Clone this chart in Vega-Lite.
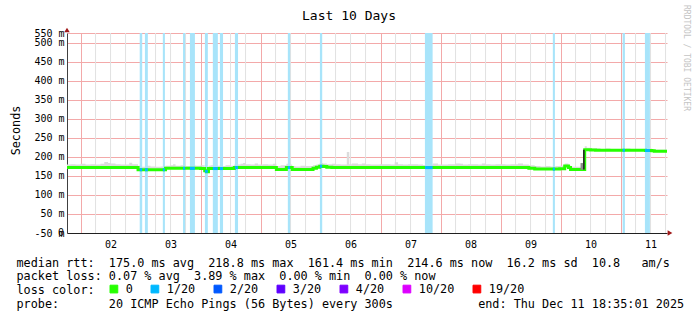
{
  "$schema": "https://vega.github.io/schema/vega-lite/v6.json",
  "width": 600,
  "height": 200,
  "autosize": "none",
  "padding": {"left": 67, "top": 33, "right": 30, "bottom": 88},
  "background": "white",
  "title": {"text": "Last 10 Days", "anchor": "middle", "dx": -18, "dy": 22, "fontSize": 13, "fontWeight": "normal", "font": "DejaVu Sans Mono", "color": "#000000"},
  "datasets": {
    "rtt": [
      {"t": "2025-12-01T18:00:00Z", "m": 172, "h": 180},
      {"t": "2025-12-01T20:00:00Z", "m": 172, "h": 181},
      {"t": "2025-12-01T22:00:00Z", "m": 172, "h": 180},
      {"t": "2025-12-02T00:00:00Z", "m": 172, "h": 182},
      {"t": "2025-12-02T02:00:00Z", "m": 172, "h": 180},
      {"t": "2025-12-02T04:00:00Z", "m": 172, "h": 181},
      {"t": "2025-12-02T06:00:00Z", "m": 172, "h": 180},
      {"t": "2025-12-02T08:00:00Z", "m": 172, "h": 182},
      {"t": "2025-12-02T09:30:00Z", "m": 172, "h": 187},
      {"t": "2025-12-02T11:00:00Z", "m": 172, "h": 184},
      {"t": "2025-12-02T12:00:00Z", "m": 172, "h": 183},
      {"t": "2025-12-02T14:00:00Z", "m": 172, "h": 181},
      {"t": "2025-12-02T16:00:00Z", "m": 172, "h": 180},
      {"t": "2025-12-02T18:00:00Z", "m": 172, "h": 180},
      {"t": "2025-12-02T19:30:00Z", "m": 172, "h": 185},
      {"t": "2025-12-02T20:40:00Z", "m": 172, "h": 181},
      {"t": "2025-12-02T22:00:00Z", "m": 172, "h": 181},
      {"t": "2025-12-02T23:00:00Z", "m": 166.5, "h": 177},
      {"t": "2025-12-03T00:00:00Z", "m": 166.5, "h": 174},
      {"t": "2025-12-03T02:00:00Z", "m": 166.5, "h": 177},
      {"t": "2025-12-03T04:00:00Z", "m": 166.5, "h": 175},
      {"t": "2025-12-03T06:00:00Z", "m": 166.5, "h": 174},
      {"t": "2025-12-03T08:00:00Z", "m": 166.5, "h": 175},
      {"t": "2025-12-03T10:00:00Z", "m": 170, "h": 177},
      {"t": "2025-12-03T12:00:00Z", "m": 170, "h": 178},
      {"t": "2025-12-03T13:00:00Z", "m": 170, "h": 181},
      {"t": "2025-12-03T14:00:00Z", "m": 170, "h": 177},
      {"t": "2025-12-03T16:00:00Z", "m": 170, "h": 178},
      {"t": "2025-12-03T18:00:00Z", "m": 170, "h": 176},
      {"t": "2025-12-03T20:00:00Z", "m": 170, "h": 178},
      {"t": "2025-12-03T22:00:00Z", "m": 170, "h": 177},
      {"t": "2025-12-04T00:00:00Z", "m": 169.5, "h": 178},
      {"t": "2025-12-04T01:40:00Z", "m": 164, "h": 172},
      {"t": "2025-12-04T02:20:00Z", "m": 161.4, "h": 170},
      {"t": "2025-12-04T03:10:00Z", "m": 169.5, "h": 177},
      {"t": "2025-12-04T04:00:00Z", "m": 169.5, "h": 178},
      {"t": "2025-12-04T06:00:00Z", "m": 169.5, "h": 177},
      {"t": "2025-12-04T08:00:00Z", "m": 169.5, "h": 176},
      {"t": "2025-12-04T10:00:00Z", "m": 169.5, "h": 178},
      {"t": "2025-12-04T12:00:00Z", "m": 169.5, "h": 177},
      {"t": "2025-12-04T13:30:00Z", "m": 172, "h": 180},
      {"t": "2025-12-04T16:00:00Z", "m": 172, "h": 182},
      {"t": "2025-12-04T17:00:00Z", "m": 172, "h": 184},
      {"t": "2025-12-04T18:00:00Z", "m": 172, "h": 181},
      {"t": "2025-12-04T20:00:00Z", "m": 172, "h": 180},
      {"t": "2025-12-04T21:40:00Z", "m": 172, "h": 183},
      {"t": "2025-12-04T23:00:00Z", "m": 172, "h": 180},
      {"t": "2025-12-05T01:00:00Z", "m": 172, "h": 181},
      {"t": "2025-12-05T03:00:00Z", "m": 172, "h": 180},
      {"t": "2025-12-05T05:00:00Z", "m": 172, "h": 182},
      {"t": "2025-12-05T06:20:00Z", "m": 167, "h": 176},
      {"t": "2025-12-05T08:00:00Z", "m": 167, "h": 178},
      {"t": "2025-12-05T10:20:00Z", "m": 172, "h": 182},
      {"t": "2025-12-05T12:00:00Z", "m": 172, "h": 180},
      {"t": "2025-12-05T12:40:00Z", "m": 167, "h": 176},
      {"t": "2025-12-05T14:00:00Z", "m": 167, "h": 175},
      {"t": "2025-12-05T16:00:00Z", "m": 167, "h": 177},
      {"t": "2025-12-05T18:00:00Z", "m": 167, "h": 176},
      {"t": "2025-12-05T20:00:00Z", "m": 167, "h": 176},
      {"t": "2025-12-05T21:00:00Z", "m": 170, "h": 178},
      {"t": "2025-12-05T22:20:00Z", "m": 173, "h": 180},
      {"t": "2025-12-05T23:40:00Z", "m": 175.5, "h": 184},
      {"t": "2025-12-06T01:00:00Z", "m": 175, "h": 183},
      {"t": "2025-12-06T02:30:00Z", "m": 173, "h": 181},
      {"t": "2025-12-06T04:30:00Z", "m": 172, "h": 182},
      {"t": "2025-12-06T06:00:00Z", "m": 172, "h": 181},
      {"t": "2025-12-06T08:00:00Z", "m": 172, "h": 180},
      {"t": "2025-12-06T10:30:00Z", "m": 172, "h": 213},
      {"t": "2025-12-06T11:30:00Z", "m": 172, "h": 181},
      {"t": "2025-12-06T12:30:00Z", "m": 172, "h": 183},
      {"t": "2025-12-06T15:00:00Z", "m": 172, "h": 181},
      {"t": "2025-12-06T16:30:00Z", "m": 172, "h": 183},
      {"t": "2025-12-06T18:00:00Z", "m": 172, "h": 181},
      {"t": "2025-12-06T20:00:00Z", "m": 172, "h": 180},
      {"t": "2025-12-06T22:00:00Z", "m": 172, "h": 180},
      {"t": "2025-12-06T23:40:00Z", "m": 172, "h": 181},
      {"t": "2025-12-07T02:00:00Z", "m": 172, "h": 181},
      {"t": "2025-12-07T04:00:00Z", "m": 172, "h": 180},
      {"t": "2025-12-07T05:40:00Z", "m": 172, "h": 186},
      {"t": "2025-12-07T07:00:00Z", "m": 172, "h": 181},
      {"t": "2025-12-07T09:00:00Z", "m": 172, "h": 180},
      {"t": "2025-12-07T11:00:00Z", "m": 172, "h": 181},
      {"t": "2025-12-07T13:00:00Z", "m": 172, "h": 181},
      {"t": "2025-12-07T15:00:00Z", "m": 172, "h": 180},
      {"t": "2025-12-07T17:00:00Z", "m": 172, "h": 179},
      {"t": "2025-12-07T19:00:00Z", "m": 172, "h": 180},
      {"t": "2025-12-07T21:00:00Z", "m": 172, "h": 183},
      {"t": "2025-12-07T23:00:00Z", "m": 172, "h": 180},
      {"t": "2025-12-08T01:00:00Z", "m": 172, "h": 180},
      {"t": "2025-12-08T03:00:00Z", "m": 172, "h": 181},
      {"t": "2025-12-08T06:00:00Z", "m": 172, "h": 183},
      {"t": "2025-12-08T08:00:00Z", "m": 172, "h": 182},
      {"t": "2025-12-08T09:00:00Z", "m": 172, "h": 180},
      {"t": "2025-12-08T11:00:00Z", "m": 172, "h": 181},
      {"t": "2025-12-08T13:00:00Z", "m": 172, "h": 181},
      {"t": "2025-12-08T15:00:00Z", "m": 172, "h": 180},
      {"t": "2025-12-08T16:30:00Z", "m": 172, "h": 183},
      {"t": "2025-12-08T18:00:00Z", "m": 172, "h": 181},
      {"t": "2025-12-08T20:00:00Z", "m": 172, "h": 180},
      {"t": "2025-12-08T22:00:00Z", "m": 172, "h": 181},
      {"t": "2025-12-09T00:00:00Z", "m": 172, "h": 181},
      {"t": "2025-12-09T02:00:00Z", "m": 172, "h": 180},
      {"t": "2025-12-09T04:00:00Z", "m": 172, "h": 181},
      {"t": "2025-12-09T07:00:00Z", "m": 172, "h": 183},
      {"t": "2025-12-09T09:00:00Z", "m": 172, "h": 180},
      {"t": "2025-12-09T11:20:00Z", "m": 170, "h": 178},
      {"t": "2025-12-09T13:40:00Z", "m": 168, "h": 176},
      {"t": "2025-12-09T16:00:00Z", "m": 168, "h": 175},
      {"t": "2025-12-09T18:00:00Z", "m": 168, "h": 176},
      {"t": "2025-12-09T20:00:00Z", "m": 168, "h": 175},
      {"t": "2025-12-09T22:00:00Z", "m": 168, "h": 176},
      {"t": "2025-12-09T23:40:00Z", "m": 169, "h": 177},
      {"t": "2025-12-10T01:40:00Z", "m": 176.5, "h": 183},
      {"t": "2025-12-10T03:10:00Z", "m": 172, "h": 178},
      {"t": "2025-12-10T04:00:00Z", "m": 167, "h": 174},
      {"t": "2025-12-10T06:00:00Z", "m": 167, "h": 174},
      {"t": "2025-12-10T09:40:00Z", "m": 219, "h": 228},
      {"t": "2025-12-10T10:30:00Z", "m": 219, "h": 224},
      {"t": "2025-12-10T12:00:00Z", "m": 218, "h": 223},
      {"t": "2025-12-10T14:00:00Z", "m": 217.5, "h": 223},
      {"t": "2025-12-10T16:00:00Z", "m": 217.5, "h": 221},
      {"t": "2025-12-10T18:00:00Z", "m": 217.5, "h": 222},
      {"t": "2025-12-10T20:00:00Z", "m": 217.5, "h": 221},
      {"t": "2025-12-10T22:00:00Z", "m": 217.5, "h": 221},
      {"t": "2025-12-11T00:00:00Z", "m": 217.5, "h": 221},
      {"t": "2025-12-11T02:00:00Z", "m": 217.5, "h": 222},
      {"t": "2025-12-11T04:00:00Z", "m": 217.5, "h": 221},
      {"t": "2025-12-11T06:00:00Z", "m": 217.5, "h": 221},
      {"t": "2025-12-11T08:00:00Z", "m": 217.5, "h": 221},
      {"t": "2025-12-11T10:00:00Z", "m": 217, "h": 221},
      {"t": "2025-12-11T11:00:00Z", "m": 217, "h": 222},
      {"t": "2025-12-11T12:30:00Z", "m": 216, "h": 221},
      {"t": "2025-12-11T13:30:00Z", "m": 215, "h": 219},
      {"t": "2025-12-11T16:00:00Z", "m": 215, "h": 219},
      {"t": "2025-12-11T18:35:00Z", "m": 214.6, "h": 219}
    ],
    "loss": [
      {"s": "2025-12-02T23:40:00Z", "e": "2025-12-03T00:40:00Z", "m": 166.5, "loss": "1/20"},
      {"s": "2025-12-03T01:45:00Z", "e": "2025-12-03T02:55:00Z", "m": 166.5, "loss": "1/20"},
      {"s": "2025-12-03T08:55:00Z", "e": "2025-12-03T09:45:00Z", "m": 166.5, "loss": "1/20"},
      {"s": "2025-12-03T17:00:00Z", "e": "2025-12-03T17:50:00Z", "m": 170, "loss": "1/20"},
      {"s": "2025-12-03T19:45:00Z", "e": "2025-12-03T21:45:00Z", "m": 170, "loss": "1/20"},
      {"s": "2025-12-04T01:45:00Z", "e": "2025-12-04T02:55:00Z", "m": 162, "loss": "1/20"},
      {"s": "2025-12-04T04:55:00Z", "e": "2025-12-04T06:55:00Z", "m": 169.5, "loss": "1/20"},
      {"s": "2025-12-04T07:45:00Z", "e": "2025-12-04T09:00:00Z", "m": 169.5, "loss": "1/20"},
      {"s": "2025-12-04T13:45:00Z", "e": "2025-12-04T15:00:00Z", "m": 172, "loss": "1/20"},
      {"s": "2025-12-05T10:55:00Z", "e": "2025-12-05T11:50:00Z", "m": 172, "loss": "1/20"},
      {"s": "2025-12-05T23:45:00Z", "e": "2025-12-06T00:40:00Z", "m": 175.5, "loss": "1/20"},
      {"s": "2025-12-07T17:45:00Z", "e": "2025-12-07T20:50:00Z", "m": 172, "loss": "1/20"},
      {"s": "2025-12-09T20:55:00Z", "e": "2025-12-09T21:45:00Z", "m": 168, "loss": "1/20"},
      {"s": "2025-12-11T00:50:00Z", "e": "2025-12-11T01:45:00Z", "m": 217.5, "loss": "1/20"},
      {"s": "2025-12-11T09:45:00Z", "e": "2025-12-11T11:45:00Z", "m": 217, "loss": "1/20"}
    ],
    "dense": [
      {"s": "2025-12-10T08:00:00Z", "e": "2025-12-10T09:00:00Z", "lo": 166, "hi": 184, "density": "mid"},
      {"s": "2025-12-10T09:00:00Z", "e": "2025-12-10T09:40:00Z", "lo": 167, "hi": 219, "density": "high"}
    ],
    "sixhours": [
      {"g": "2025-12-02T06:00:00Z"}, {"g": "2025-12-02T12:00:00Z"}, {"g": "2025-12-02T18:00:00Z"},
      {"g": "2025-12-03T06:00:00Z"}, {"g": "2025-12-03T12:00:00Z"}, {"g": "2025-12-03T18:00:00Z"},
      {"g": "2025-12-04T06:00:00Z"}, {"g": "2025-12-04T12:00:00Z"}, {"g": "2025-12-04T18:00:00Z"},
      {"g": "2025-12-05T06:00:00Z"}, {"g": "2025-12-05T12:00:00Z"}, {"g": "2025-12-05T18:00:00Z"},
      {"g": "2025-12-06T06:00:00Z"}, {"g": "2025-12-06T12:00:00Z"}, {"g": "2025-12-06T18:00:00Z"},
      {"g": "2025-12-07T06:00:00Z"}, {"g": "2025-12-07T12:00:00Z"}, {"g": "2025-12-07T18:00:00Z"},
      {"g": "2025-12-08T06:00:00Z"}, {"g": "2025-12-08T12:00:00Z"}, {"g": "2025-12-08T18:00:00Z"},
      {"g": "2025-12-09T06:00:00Z"}, {"g": "2025-12-09T12:00:00Z"}, {"g": "2025-12-09T18:00:00Z"},
      {"g": "2025-12-10T06:00:00Z"}, {"g": "2025-12-10T12:00:00Z"}, {"g": "2025-12-10T18:00:00Z"},
      {"g": "2025-12-11T06:00:00Z"}, {"g": "2025-12-11T12:00:00Z"}, {"g": "2025-12-11T18:00:00Z"}
    ],
    "marker": [{"k": 1}]
  },
  "layer": [
    {
      "data": {"name": "sixhours"},
      "mark": {"type": "rule", "color": "#e2e2e2", "strokeWidth": 1},
      "encoding": {
        "x": {"field": "g", "type": "temporal",
          "scale": {"type": "utc", "domain": [{"year": 2025, "month": 12, "date": 1, "hours": 18, "minutes": 35, "utc": true}, {"year": 2025, "month": 12, "date": 11, "hours": 18, "minutes": 35, "utc": true}]},
          "axis": {"values": [{"year": 2025, "month": 12, "date": 2, "utc": true}, {"year": 2025, "month": 12, "date": 3, "utc": true}, {"year": 2025, "month": 12, "date": 4, "utc": true}, {"year": 2025, "month": 12, "date": 5, "utc": true}, {"year": 2025, "month": 12, "date": 6, "utc": true}, {"year": 2025, "month": 12, "date": 7, "utc": true}, {"year": 2025, "month": 12, "date": 8, "utc": true}, {"year": 2025, "month": 12, "date": 9, "utc": true}, {"year": 2025, "month": 12, "date": 10, "utc": true}, {"year": 2025, "month": 12, "date": 11, "utc": true}],
            "title": ["median rtt:\u00a0\u00a0175.0 ms avg\u00a0\u00a0218.8 ms max\u00a0\u00a0161.4 ms min\u00a0\u00a0214.6 ms now\u00a0\u00a016.2 ms sd\u00a0\u00a010.8\u00a0\u00a0\u00a0am/s", "packet loss: 0.07 % avg\u00a0\u00a03.89 % max\u00a0\u00a00.00 % min\u00a0\u00a00.00 % now", "loss color:", "probe:\u00a0\u00a0\u00a0\u00a0\u00a0\u00a0\u00a020 ICMP Echo Pings (56 Bytes) every 300s\u00a0\u00a0\u00a0\u00a0\u00a0\u00a0\u00a0\u00a0\u00a0\u00a0\u00a0\u00a0end: Thu Dec 11 18:35:01 2025"]}}
      }
    },
    {
      "data": {"name": "rtt"},
      "mark": {"type": "area", "interpolate": "step-after", "color": "#dcdcdc", "clip": true},
      "encoding": {
        "x": {"field": "t", "type": "temporal",
          "axis": {"values": [{"year": 2025, "month": 12, "date": 2, "utc": true}, {"year": 2025, "month": 12, "date": 3, "utc": true}, {"year": 2025, "month": 12, "date": 4, "utc": true}, {"year": 2025, "month": 12, "date": 5, "utc": true}, {"year": 2025, "month": 12, "date": 6, "utc": true}, {"year": 2025, "month": 12, "date": 7, "utc": true}, {"year": 2025, "month": 12, "date": 8, "utc": true}, {"year": 2025, "month": 12, "date": 9, "utc": true}, {"year": 2025, "month": 12, "date": 10, "utc": true}, {"year": 2025, "month": 12, "date": 11, "utc": true}],
            "title": ["median rtt:\u00a0\u00a0175.0 ms avg\u00a0\u00a0218.8 ms max\u00a0\u00a0161.4 ms min\u00a0\u00a0214.6 ms now\u00a0\u00a016.2 ms sd\u00a0\u00a010.8\u00a0\u00a0\u00a0am/s", "packet loss: 0.07 % avg\u00a0\u00a03.89 % max\u00a0\u00a00.00 % min\u00a0\u00a00.00 % now", "loss color:", "probe:\u00a0\u00a0\u00a0\u00a0\u00a0\u00a0\u00a020 ICMP Echo Pings (56 Bytes) every 300s\u00a0\u00a0\u00a0\u00a0\u00a0\u00a0\u00a0\u00a0\u00a0\u00a0\u00a0\u00a0end: Thu Dec 11 18:35:01 2025"]}},
        "y": {"field": "m", "type": "quantitative",
          "scale": {"domain": [0, 526], "nice": false, "zero": false},
          "axis": {"values": [0, 50, 100, 150, 200, 250, 300, 350, 400, 450, 500, 526], "title": "Seconds"}},
        "y2": {"field": "h"}
      }
    },
    {
      "data": {"name": "loss"},
      "mark": {"type": "rect", "color": "#a8e4fa", "clip": true},
      "encoding": {
        "x": {"field": "s", "type": "temporal",
          "axis": {"values": [{"year": 2025, "month": 12, "date": 2, "utc": true}, {"year": 2025, "month": 12, "date": 3, "utc": true}, {"year": 2025, "month": 12, "date": 4, "utc": true}, {"year": 2025, "month": 12, "date": 5, "utc": true}, {"year": 2025, "month": 12, "date": 6, "utc": true}, {"year": 2025, "month": 12, "date": 7, "utc": true}, {"year": 2025, "month": 12, "date": 8, "utc": true}, {"year": 2025, "month": 12, "date": 9, "utc": true}, {"year": 2025, "month": 12, "date": 10, "utc": true}, {"year": 2025, "month": 12, "date": 11, "utc": true}],
            "title": ["median rtt:\u00a0\u00a0175.0 ms avg\u00a0\u00a0218.8 ms max\u00a0\u00a0161.4 ms min\u00a0\u00a0214.6 ms now\u00a0\u00a016.2 ms sd\u00a0\u00a010.8\u00a0\u00a0\u00a0am/s", "packet loss: 0.07 % avg\u00a0\u00a03.89 % max\u00a0\u00a00.00 % min\u00a0\u00a00.00 % now", "loss color:", "probe:\u00a0\u00a0\u00a0\u00a0\u00a0\u00a0\u00a020 ICMP Echo Pings (56 Bytes) every 300s\u00a0\u00a0\u00a0\u00a0\u00a0\u00a0\u00a0\u00a0\u00a0\u00a0\u00a0\u00a0end: Thu Dec 11 18:35:01 2025"]}},
        "x2": {"field": "e"}
      }
    },
    {
      "data": {"name": "rtt"},
      "mark": {"type": "line", "interpolate": "step-after", "strokeWidth": 3, "clip": true, "color": "#26ff00"},
      "encoding": {
        "x": {"field": "t", "type": "temporal",
          "axis": {"values": [{"year": 2025, "month": 12, "date": 2, "utc": true}, {"year": 2025, "month": 12, "date": 3, "utc": true}, {"year": 2025, "month": 12, "date": 4, "utc": true}, {"year": 2025, "month": 12, "date": 5, "utc": true}, {"year": 2025, "month": 12, "date": 6, "utc": true}, {"year": 2025, "month": 12, "date": 7, "utc": true}, {"year": 2025, "month": 12, "date": 8, "utc": true}, {"year": 2025, "month": 12, "date": 9, "utc": true}, {"year": 2025, "month": 12, "date": 10, "utc": true}, {"year": 2025, "month": 12, "date": 11, "utc": true}],
            "title": ["median rtt:\u00a0\u00a0175.0 ms avg\u00a0\u00a0218.8 ms max\u00a0\u00a0161.4 ms min\u00a0\u00a0214.6 ms now\u00a0\u00a016.2 ms sd\u00a0\u00a010.8\u00a0\u00a0\u00a0am/s", "packet loss: 0.07 % avg\u00a0\u00a03.89 % max\u00a0\u00a00.00 % min\u00a0\u00a00.00 % now", "loss color:", "probe:\u00a0\u00a0\u00a0\u00a0\u00a0\u00a0\u00a020 ICMP Echo Pings (56 Bytes) every 300s\u00a0\u00a0\u00a0\u00a0\u00a0\u00a0\u00a0\u00a0\u00a0\u00a0\u00a0\u00a0end: Thu Dec 11 18:35:01 2025"]}},
        "y": {"field": "m", "type": "quantitative",
          "axis": {"values": [0, 50, 100, 150, 200, 250, 300, 350, 400, 450, 500, 526], "title": "Seconds"}}
      }
    },
    {
      "data": {"name": "loss"},
      "mark": {"type": "rule", "strokeWidth": 3, "clip": true},
      "encoding": {
        "x": {"field": "s", "type": "temporal",
          "axis": {"values": [{"year": 2025, "month": 12, "date": 2, "utc": true}, {"year": 2025, "month": 12, "date": 3, "utc": true}, {"year": 2025, "month": 12, "date": 4, "utc": true}, {"year": 2025, "month": 12, "date": 5, "utc": true}, {"year": 2025, "month": 12, "date": 6, "utc": true}, {"year": 2025, "month": 12, "date": 7, "utc": true}, {"year": 2025, "month": 12, "date": 8, "utc": true}, {"year": 2025, "month": 12, "date": 9, "utc": true}, {"year": 2025, "month": 12, "date": 10, "utc": true}, {"year": 2025, "month": 12, "date": 11, "utc": true}],
            "title": ["median rtt:\u00a0\u00a0175.0 ms avg\u00a0\u00a0218.8 ms max\u00a0\u00a0161.4 ms min\u00a0\u00a0214.6 ms now\u00a0\u00a016.2 ms sd\u00a0\u00a010.8\u00a0\u00a0\u00a0am/s", "packet loss: 0.07 % avg\u00a0\u00a03.89 % max\u00a0\u00a00.00 % min\u00a0\u00a00.00 % now", "loss color:", "probe:\u00a0\u00a0\u00a0\u00a0\u00a0\u00a0\u00a020 ICMP Echo Pings (56 Bytes) every 300s\u00a0\u00a0\u00a0\u00a0\u00a0\u00a0\u00a0\u00a0\u00a0\u00a0\u00a0\u00a0end: Thu Dec 11 18:35:01 2025"]}},
        "x2": {"field": "e"},
        "y": {"field": "m", "type": "quantitative",
          "axis": {"values": [0, 50, 100, 150, 200, 250, 300, 350, 400, 450, 500, 526], "title": "Seconds"}},
        "color": {"field": "loss", "type": "nominal",
          "scale": {"domain": ["0", "1/20", "2/20", "3/20", "4/20", "10/20", "19/20"], "range": ["#26ff00", "#00b8ff", "#0059ff", "#5e00ff", "#7e00ff", "#dd00ff", "#ff0000"]},
          "legend": {"orient": "none", "legendX": 41, "legendY": 250, "direction": "horizontal", "title": null,
            "symbolType": "square", "symbolSize": 60, "symbolStrokeWidth": 1, "symbolStrokeColor": "#000000", "symbolOpacity": 1,
            "labelFont": "DejaVu Sans Mono", "labelFontSize": 11.8, "labelColor": "#000000", "labelOffset": 6, "columnPadding": 16,
            "encode": {"symbols": {"update": {"fill": {"scale": "color", "field": "value"}, "stroke": {"value": "#000000"}}}}}}
      }
    },
    {
      "data": {"name": "dense"},
      "mark": {"type": "rect", "clip": true},
      "encoding": {
        "x": {"field": "s", "type": "temporal",
          "axis": {"values": [{"year": 2025, "month": 12, "date": 2, "utc": true}, {"year": 2025, "month": 12, "date": 3, "utc": true}, {"year": 2025, "month": 12, "date": 4, "utc": true}, {"year": 2025, "month": 12, "date": 5, "utc": true}, {"year": 2025, "month": 12, "date": 6, "utc": true}, {"year": 2025, "month": 12, "date": 7, "utc": true}, {"year": 2025, "month": 12, "date": 8, "utc": true}, {"year": 2025, "month": 12, "date": 9, "utc": true}, {"year": 2025, "month": 12, "date": 10, "utc": true}, {"year": 2025, "month": 12, "date": 11, "utc": true}],
            "title": ["median rtt:\u00a0\u00a0175.0 ms avg\u00a0\u00a0218.8 ms max\u00a0\u00a0161.4 ms min\u00a0\u00a0214.6 ms now\u00a0\u00a016.2 ms sd\u00a0\u00a010.8\u00a0\u00a0\u00a0am/s", "packet loss: 0.07 % avg\u00a0\u00a03.89 % max\u00a0\u00a00.00 % min\u00a0\u00a00.00 % now", "loss color:", "probe:\u00a0\u00a0\u00a0\u00a0\u00a0\u00a0\u00a020 ICMP Echo Pings (56 Bytes) every 300s\u00a0\u00a0\u00a0\u00a0\u00a0\u00a0\u00a0\u00a0\u00a0\u00a0\u00a0\u00a0end: Thu Dec 11 18:35:01 2025"]}},
        "x2": {"field": "e"},
        "y": {"field": "lo", "type": "quantitative",
          "axis": {"values": [0, 50, 100, 150, 200, 250, 300, 350, 400, 450, 500, 526], "title": "Seconds"}},
        "y2": {"field": "hi"},
        "fill": {"field": "density", "type": "nominal", "scale": {"domain": ["mid", "high"], "range": ["#8c8c8c", "#262626"]}, "legend": null}
      }
    },
    {
      "data": {"name": "marker"},
      "mark": {"type": "text", "text": "RRDTOOL / TOBI OETIKER", "angle": 90, "align": "left", "baseline": "middle", "dx": -28, "dy": -19, "font": "DejaVu Sans Mono", "fontSize": 8, "color": "#c4c4c4"},
      "encoding": {
        "x": {"datum": {"year": 2025, "month": 12, "date": 11, "hours": 18, "minutes": 35, "utc": true}, "type": "temporal",
          "axis": {"values": [{"year": 2025, "month": 12, "date": 2, "utc": true}, {"year": 2025, "month": 12, "date": 3, "utc": true}, {"year": 2025, "month": 12, "date": 4, "utc": true}, {"year": 2025, "month": 12, "date": 5, "utc": true}, {"year": 2025, "month": 12, "date": 6, "utc": true}, {"year": 2025, "month": 12, "date": 7, "utc": true}, {"year": 2025, "month": 12, "date": 8, "utc": true}, {"year": 2025, "month": 12, "date": 9, "utc": true}, {"year": 2025, "month": 12, "date": 10, "utc": true}, {"year": 2025, "month": 12, "date": 11, "utc": true}],
            "title": ["median rtt:\u00a0\u00a0175.0 ms avg\u00a0\u00a0218.8 ms max\u00a0\u00a0161.4 ms min\u00a0\u00a0214.6 ms now\u00a0\u00a016.2 ms sd\u00a0\u00a010.8\u00a0\u00a0\u00a0am/s", "packet loss: 0.07 % avg\u00a0\u00a03.89 % max\u00a0\u00a00.00 % min\u00a0\u00a00.00 % now", "loss color:", "probe:\u00a0\u00a0\u00a0\u00a0\u00a0\u00a0\u00a020 ICMP Echo Pings (56 Bytes) every 300s\u00a0\u00a0\u00a0\u00a0\u00a0\u00a0\u00a0\u00a0\u00a0\u00a0\u00a0\u00a0end: Thu Dec 11 18:35:01 2025"]}},
        "y": {"datum": 526, "type": "quantitative",
          "axis": {"values": [0, 50, 100, 150, 200, 250, 300, 350, 400, 450, 500, 526], "title": "Seconds"}}
      }
    },
    {
      "data": {"name": "marker"},
      "mark": {"type": "text", "text": "0", "align": "right", "baseline": "middle", "dx": -3, "font": "DejaVu Sans Mono", "fontSize": 10, "color": "#000000"},
      "encoding": {
        "x": {"datum": {"year": 2025, "month": 12, "date": 1, "hours": 18, "minutes": 35, "utc": true}, "type": "temporal",
          "axis": {"values": [{"year": 2025, "month": 12, "date": 2, "utc": true}, {"year": 2025, "month": 12, "date": 3, "utc": true}, {"year": 2025, "month": 12, "date": 4, "utc": true}, {"year": 2025, "month": 12, "date": 5, "utc": true}, {"year": 2025, "month": 12, "date": 6, "utc": true}, {"year": 2025, "month": 12, "date": 7, "utc": true}, {"year": 2025, "month": 12, "date": 8, "utc": true}, {"year": 2025, "month": 12, "date": 9, "utc": true}, {"year": 2025, "month": 12, "date": 10, "utc": true}, {"year": 2025, "month": 12, "date": 11, "utc": true}],
            "title": ["median rtt:\u00a0\u00a0175.0 ms avg\u00a0\u00a0218.8 ms max\u00a0\u00a0161.4 ms min\u00a0\u00a0214.6 ms now\u00a0\u00a016.2 ms sd\u00a0\u00a010.8\u00a0\u00a0\u00a0am/s", "packet loss: 0.07 % avg\u00a0\u00a03.89 % max\u00a0\u00a00.00 % min\u00a0\u00a00.00 % now", "loss color:", "probe:\u00a0\u00a0\u00a0\u00a0\u00a0\u00a0\u00a020 ICMP Echo Pings (56 Bytes) every 300s\u00a0\u00a0\u00a0\u00a0\u00a0\u00a0\u00a0\u00a0\u00a0\u00a0\u00a0\u00a0end: Thu Dec 11 18:35:01 2025"]}},
        "y": {"datum": 0, "type": "quantitative",
          "axis": {"values": [0, 50, 100, 150, 200, 250, 300, 350, 400, 450, 500, 526], "title": "Seconds"}}
      }
    },
    {
      "data": {"name": "marker"},
      "mark": {"type": "point", "shape": "triangle-right", "filled": true, "color": "#a01818", "size": 30, "opacity": 1, "xOffset": 3},
      "encoding": {
        "x": {"datum": {"year": 2025, "month": 12, "date": 11, "hours": 18, "minutes": 35, "utc": true}, "type": "temporal",
          "axis": {"values": [{"year": 2025, "month": 12, "date": 2, "utc": true}, {"year": 2025, "month": 12, "date": 3, "utc": true}, {"year": 2025, "month": 12, "date": 4, "utc": true}, {"year": 2025, "month": 12, "date": 5, "utc": true}, {"year": 2025, "month": 12, "date": 6, "utc": true}, {"year": 2025, "month": 12, "date": 7, "utc": true}, {"year": 2025, "month": 12, "date": 8, "utc": true}, {"year": 2025, "month": 12, "date": 9, "utc": true}, {"year": 2025, "month": 12, "date": 10, "utc": true}, {"year": 2025, "month": 12, "date": 11, "utc": true}],
            "title": ["median rtt:\u00a0\u00a0175.0 ms avg\u00a0\u00a0218.8 ms max\u00a0\u00a0161.4 ms min\u00a0\u00a0214.6 ms now\u00a0\u00a016.2 ms sd\u00a0\u00a010.8\u00a0\u00a0\u00a0am/s", "packet loss: 0.07 % avg\u00a0\u00a03.89 % max\u00a0\u00a00.00 % min\u00a0\u00a00.00 % now", "loss color:", "probe:\u00a0\u00a0\u00a0\u00a0\u00a0\u00a0\u00a020 ICMP Echo Pings (56 Bytes) every 300s\u00a0\u00a0\u00a0\u00a0\u00a0\u00a0\u00a0\u00a0\u00a0\u00a0\u00a0\u00a0end: Thu Dec 11 18:35:01 2025"]}},
        "y": {"datum": 0, "type": "quantitative",
          "axis": {"values": [0, 50, 100, 150, 200, 250, 300, 350, 400, 450, 500, 526], "title": "Seconds"}}
      }
    },
    {
      "data": {"name": "marker"},
      "mark": {"type": "point", "shape": "triangle-up", "filled": true, "color": "#a01818", "size": 30, "opacity": 1, "yOffset": -3},
      "encoding": {
        "x": {"datum": {"year": 2025, "month": 12, "date": 1, "hours": 18, "minutes": 35, "utc": true}, "type": "temporal",
          "axis": {"values": [{"year": 2025, "month": 12, "date": 2, "utc": true}, {"year": 2025, "month": 12, "date": 3, "utc": true}, {"year": 2025, "month": 12, "date": 4, "utc": true}, {"year": 2025, "month": 12, "date": 5, "utc": true}, {"year": 2025, "month": 12, "date": 6, "utc": true}, {"year": 2025, "month": 12, "date": 7, "utc": true}, {"year": 2025, "month": 12, "date": 8, "utc": true}, {"year": 2025, "month": 12, "date": 9, "utc": true}, {"year": 2025, "month": 12, "date": 10, "utc": true}, {"year": 2025, "month": 12, "date": 11, "utc": true}],
            "title": ["median rtt:\u00a0\u00a0175.0 ms avg\u00a0\u00a0218.8 ms max\u00a0\u00a0161.4 ms min\u00a0\u00a0214.6 ms now\u00a0\u00a016.2 ms sd\u00a0\u00a010.8\u00a0\u00a0\u00a0am/s", "packet loss: 0.07 % avg\u00a0\u00a03.89 % max\u00a0\u00a00.00 % min\u00a0\u00a00.00 % now", "loss color:", "probe:\u00a0\u00a0\u00a0\u00a0\u00a0\u00a0\u00a020 ICMP Echo Pings (56 Bytes) every 300s\u00a0\u00a0\u00a0\u00a0\u00a0\u00a0\u00a0\u00a0\u00a0\u00a0\u00a0\u00a0end: Thu Dec 11 18:35:01 2025"]}},
        "y": {"datum": 526, "type": "quantitative",
          "axis": {"values": [0, 50, 100, 150, 200, 250, 300, 350, 400, 450, 500, 526], "title": "Seconds"}}
      }
    }
  ],
  "config": {
    "font": "DejaVu Sans Mono",
    "view": {"stroke": null},
    "axis": {"labelFont": "DejaVu Sans Mono", "titleFont": "DejaVu Sans Mono", "titleFontWeight": "normal", "labelColor": "#000000", "titleColor": "#000000",
      "grid": true, "gridColor": "#f3a9a9", "gridWidth": 1, "gridOpacity": 1, "ticks": false, "domain": true,
      "labelOverlap": false, "labelFlush": false, "labelBound": false, "zindex": 0},
    "axisX": {"orient": "bottom", "domainColor": "#202020", "labelExpr": "utcFormat(datum.value, '%d')", "labelOffset": 30, "labelFontSize": 10, "labelPadding": 6,
      "titleFontSize": 11.8, "titleX": -51, "titleY": 33, "titleAlign": "left", "titleBaseline": "alphabetic", "titleLineHeight": 13.7, "titleAnchor": "start"},
    "axisY": {"orient": "left", "domainColor": "#404040", "labelExpr": "datum.value == 0 ? '-50 m' : datum.value > 520 ? '550 m' : datum.value + ' m'",
      "labelPadding": 3, "labelFontSize": 10, "titleFontSize": 11.8, "titleX": -52, "titleY": 97, "titleAlign": "center", "titleBaseline": "middle"}
  }
}
